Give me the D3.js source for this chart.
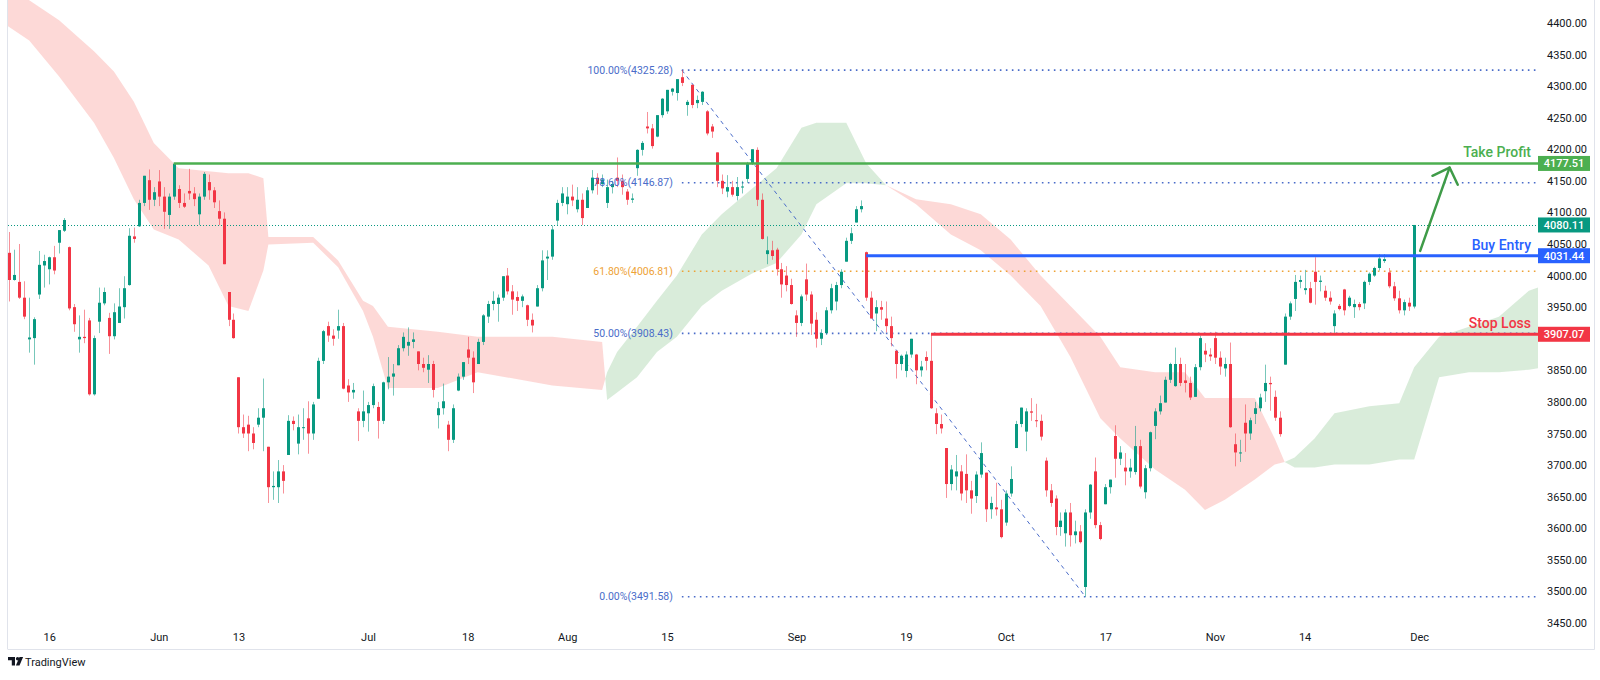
<!DOCTYPE html>
<html><head><meta charset="utf-8">
<script src="https://cdn.jsdelivr.net/npm/d3@7"></script>
<style>body{margin:0;background:#fff;}svg{display:block;font-family:Roboto,"Liberation Sans",sans-serif;}</style>
</head><body><svg id="c" width="1600" height="680"></svg>
<script>
// ---- candles, 4H bars (two per session), [open, high, low, close]
const mayBars = [
[4036,4069,3959,3993],[3993,4041,3992,4001],
[3990,4050,3963,3965],[3965,3991,3931,3935],
[3899,3965,3878,3902],[3901,3934,3859,3931],
[3970,4039,3963,4017],[4016,4033,3981,4023],
[4010,4030,3986,4029],[4029,4047,4002,4008],
[4052,4072,4035,4072],[4071,4091,4069,4088],
[4045,4046,3945,3948],[3950,3955,3911,3923],
[3899,3937,3878,3903],[3903,3946,3893,3901],
[3929,3933,3810,3812],[3812,3905,3810,3901],
[3927,3981,3909,3957],[3956,3981,3953,3974],
[3933,3941,3876,3904],[3904,3956,3899,3942],
[3925,3980,3925,3951],[3950,3999,3932,3980],
[3985,4075,3984,4063],[4062,4076,4052,4058],
[4078,4120,4077,4115],[4115,4158,4110,4158],
[4151,4168,4104,4120],[4120,4140,4110,4132]];
const junBars = [
[4149,4167,4110,4125],[4125,4140,4074,4101],
[4096,4130,4074,4125],[4125,4177,4120,4177],
[4137,4143,4107,4115],[4115,4130,4107,4109],
[4134,4169,4120,4130],[4130,4140,4110,4121],
[4097,4130,4080,4125],[4125,4164,4120,4161],
[4148,4160,4120,4135],[4135,4140,4107,4116],
[4102,4119,4080,4090],[4090,4100,4018,4018],
[3974,3974,3920,3930],[3930,3940,3900,3901],
[3839,3839,3750,3760],[3760,3780,3743,3750],
[3764,3778,3722,3750],[3750,3760,3725,3735],
[3764,3790,3760,3775],[3775,3837,3722,3790],
[3729,3729,3640,3665],[3665,3690,3645,3667],
[3665,3708,3640,3690],[3690,3700,3655,3675],
[3716,3779,3716,3770],[3770,3777,3755,3765],
[3734,3780,3717,3760],[3760,3790,3740,3760],
[3774,3801,3718,3750],[3750,3800,3740,3796],
[3805,3870,3805,3865],[3865,3914,3860,3912],
[3920,3927,3895,3905],[3905,3915,3889,3900],
[3913,3946,3900,3920],[3920,3925,3820,3821],
[3826,3836,3800,3815],[3815,3830,3805,3819],
[3785,3790,3738,3770],[3770,3818,3760,3785]];
const julBars = [
[3782,3800,3753,3795],[3795,3829,3790,3825],
[3792,3800,3742,3770],[3770,3832,3765,3831],
[3831,3871,3820,3840],[3840,3860,3810,3845],
[3858,3890,3858,3885],[3885,3910,3880,3903],
[3889,3918,3873,3895],[3895,3910,3885,3899],
[3880,3880,3850,3860],[3860,3870,3847,3854],
[3851,3874,3830,3860],[3860,3865,3807,3819],
[3779,3800,3758,3790],[3790,3829,3780,3801],
[3764,3770,3722,3740],[3740,3796,3735,3790],
[3818,3845,3817,3840],[3840,3863,3835,3863],
[3883,3903,3860,3870],[3870,3880,3814,3831],
[3860,3900,3860,3895],[3895,3939,3890,3937],
[3935,3960,3925,3955],[3955,3975,3945,3960],
[3955,3970,3927,3965],[3965,3999,3960,3999],
[4000,4012,3970,3975],[3975,3985,3938,3962],
[3966,3975,3944,3960],[3960,3970,3950,3967],
[3953,3954,3920,3930],[3930,3940,3910,3921],
[3951,3985,3951,3980],[3980,4040,3975,4024],
[4027,4040,3993,4030],[4030,4079,4025,4073],
[4087,4120,4079,4115],[4115,4140,4110,4130]];
const augBars = [
[4113,4140,4097,4125],[4125,4144,4110,4119],
[4105,4140,4100,4120],[4120,4130,4080,4091],
[4107,4140,4107,4135],[4135,4167,4130,4155],
[4155,4162,4128,4145],[4145,4160,4140,4152],
[4115,4152,4107,4140],[4140,4150,4130,4145],
[4155,4187,4140,4150],[4150,4160,4128,4140],
[4133,4137,4112,4120],[4120,4130,4115,4122],
[4170,4200,4158,4199],[4199,4213,4190,4210],
[4236,4259,4225,4233],[4233,4240,4201,4205],
[4220,4254,4219,4254],[4254,4281,4250,4280],
[4260,4294,4256,4294],[4291,4297,4285,4296],
[4289,4311,4277,4311],[4314,4325.28,4300,4305],
[4270,4278,4253,4275],[4302,4302,4265,4270],
[4273,4285,4265,4278],[4275,4292,4270,4291],
[4260,4262,4222,4225],[4236,4240,4218,4228],
[4195,4195,4140,4150],[4150,4160,4129,4138],
[4133,4159,4124,4140],[4140,4150,4125,4128],
[4126,4156,4119,4140],[4140,4150,4130,4141],
[4153,4180,4147,4178],[4178,4200,4175,4200],
[4199,4203,4110,4120],[4120,4130,4057,4058],
[4034,4062,4018,4040],[4040,4055,4025,4031],
[4041,4044,4000,4010],[4010,4020,3965,3986],
[4000,4015,3975,3985],[3985,3995,3954,3955]];
const sepBars = [
[3937,3945,3903,3925],[3925,3970,3920,3967],
[3994,4019,3960,3970],[3970,3975,3906,3924],
[3930,3942,3886,3900],[3900,3915,3890,3909],
[3909,3950,3906,3945],[3945,3987,3940,3980],
[3959,3990,3945,3985],[3985,4010,3980,4006],
[4022,4060,4022,4055],[4055,4076,4050,4067],
[4084,4110,4084,4105],[4105,4119,4100,4110],
[4037,4038,3960,3965],[3965,3975,3933,3932],
[3940,3961,3912,3950],[3950,3960,3930,3946],
[3932,3959,3910,3920],[3920,3935,3888,3901],
[3881,3881,3837,3860],[3860,3875,3850,3873],
[3849,3880,3839,3875],[3875,3900,3870,3900],
[3875,3876,3828,3850],[3850,3865,3840,3856],
[3871,3880,3850,3865],[3865,3907,3789,3790],
[3782,3790,3749,3765],[3765,3780,3750,3758],
[3727,3727,3648,3670],[3670,3700,3660,3693],
[3682,3716,3660,3690],[3690,3700,3644,3655],
[3686,3717,3640,3660],[3660,3675,3623,3647],
[3651,3690,3640,3685],[3685,3736,3680,3719],
[3688,3688,3610,3630],[3630,3650,3615,3640],
[3633,3672,3620,3630],[3630,3645,3584,3586]];
const octBars = [
[3609,3660,3604,3655],[3655,3698,3650,3678],
[3727,3770,3727,3765],[3765,3791,3760,3791],
[3753,3790,3722,3785],[3785,3806,3770,3783],
[3771,3797,3760,3770],[3770,3780,3739,3745],
[3707,3712,3650,3660],[3660,3670,3634,3640],
[3647,3652,3589,3602],[3602,3625,3588,3612],
[3592,3630,3571,3625],[3625,3640,3571,3589],
[3589,3612,3576,3595],[3595,3605,3576,3578],
[3507,3630,3491.58,3625],[3625,3670,3615,3669],
[3690,3712,3600,3605],[3605,3610,3581,3583],
[3638,3670,3638,3665],[3665,3677,3655,3677],
[3746,3763,3680,3710],[3710,3730,3700,3720],
[3696,3719,3668,3690],[3690,3710,3680,3696],
[3689,3762,3685,3730],[3730,3740,3663,3666],
[3657,3700,3647,3695],[3695,3753,3690,3752],
[3762,3790,3741,3785],[3785,3810,3780,3798],
[3799,3840,3799,3835],[3835,3862,3830,3860],
[3825,3886,3824,3860],[3860,3870,3825,3830],
[3834,3860,3815,3830],[3830,3840,3803,3807],
[3808,3860,3808,3855],[3855,3905,3850,3901],
[3881,3893,3863,3875],[3875,3885,3865,3872]];
const novBars = [
[3901,3911,3860,3870],[3870,3880,3843,3856],
[3853,3870,3840,3860],[3860,3894,3759,3760],
[3733,3750,3698,3720],[3720,3740,3705,3720],
[3767,3796,3721,3750],[3750,3775,3740,3771],
[3781,3800,3765,3790],[3790,3813,3785,3807],
[3817,3859,3800,3830],[3830,3840,3786,3828],
[3808,3818,3770,3775],[3775,3785,3745,3749],
[3859,3940,3859,3935],[3935,3959,3930,3956],
[3963,4001,3944,3990],[3990,4000,3980,3993],
[3977,4009,3970,3980],[3980,3990,3956,3957],
[4006,4029,3954,3990],[3990,4000,3975,3992],
[3976,3984,3960,3965],[3965,3975,3954,3959],
[3920,3945,3906,3940],[3952,3955,3945,3947],
[3978,3979,3937,3945],[3952,3968,3950,3965],
[3950,3962,3933,3955],[3955,3958,3945,3950],
[3956,3992,3947,3990],[3990,4005,3985,4003],
[4000,4014,3998,4012],[4012,4034,4008,4027],
[4023,4034,4020,4026],
[4005,4012,3980,3983],[3983,3990,3960,3964],
[3964,3976,3940,3945],[3945,3962,3937,3958],
[3957,3965,3944,3951],[3951,4080.11,3948,4080.11]];

// ---- Ichimoku cloud: bar index, leading span A, leading span B
const cloudBar = [-2,4,10,17,21,25,29,34,40,44,48,51,52,61,66,71,73,76,86,94,109,119,
  120,122,126,130,134,139,143,149,154,159,162,168,172,176,
  182,189,195,201,207,213,219,223,230,236,240,244,250,254,256,
  258,262,266,273,279,282,287,293,299,305,308];
const spanA = [4404,4372,4315,4242,4186,4121,4073,4057,4016,3952,3944,4008,4049,4052,4013,3944,3903,3822,3822,3847,3826,3819,
  3847,3879,3919,3960,4000,4065,4097,4137,4170,4234,4242,4242,4178,4143,
  4113,4065,4040,4000,3952,3871,3774,3742,3693,3661,3629,3645,3677,3701,3705,
  3712,3742,3782,3793,3798,3855,3903,3919,3935,3976,3984];
const spanB = [4452,4436,4404,4355,4323,4275,4210,4170,4165,4162,4162,4154,4061,4061,4024,3960,3952,3919,3911,3903,3903,3895,
  3803,3815,3839,3879,3903,3952,3976,4003,4020,4065,4113,4146,4146,4143,
  4121,4113,4097,4057,4000,3952,3903,3855,3847,3847,3806,3806,3806,3742,3705,
  3696,3696,3701,3701,3709,3709,3839,3847,3847,3851,3855];

// ---- axes
const priceTicks = [3450,3500,3550,3600,3650,3700,3750,3800,3850,3900,3950,4000,4050,4100,4150,4200,4250,4300,4350,4400];
const timeTickBars = [8,30,46,72,92,112,132,158,180,200,220,242,260,283];
const timeTickLabels = ["16","Jun","13","Jul","18","Aug","15","Sep","19","Oct","17","Nov","14","Dec"];

// ---- Fibonacci retracement
const fibPct = ["100.00%","78.60%","61.80%","50.00%","0.00%"];
const fibPrice = [4325.28,4146.87,4006.81,3908.43,3491.58];
const fibAnchorBars = [135,216];

// ---- trade levels
const levelNames = ["Take Profit","Buy Entry","Stop Loss"];
const levelPrices = [4177.51,4031.44,3907.07];
const levelStartBars = [33,172,185];
const lastPrice = 4080.11;
const arrowBars = [283.2,289.1];
const arrowPrices = [4039,4171];

// ================= drawing =================
const svg = d3.select("#c");
const P = {left:8, right:1538, top:0, bottom:628};
const bars = [].concat(mayBars,junBars,julBars,augBars,sepBars,octBars,novBars)
  .map((d,i)=>({i,o:d[0],h:d[1],l:d[2],c:d[3]}));
const x = d3.scaleLinear().domain([0,282]).range([9.3,1414.2]);
const y = d3.scaleLinear().domain([3450,4400]).range([623.0,22.9]);

svg.append("defs").append("clipPath").attr("id","clip").append("rect")
  .attr("x",P.left).attr("y",P.top).attr("width",P.right-P.left).attr("height",P.bottom-P.top);
const g = svg.append("g").attr("clip-path","url(#clip)");

// cloud
const pts = cloudBar.map((j,i)=>({j,a:spanA[i],b:spanB[i]}));
const segs=[]; let cur=null;
pts.forEach((p,i)=>{
  const bull = p.a>=p.b;
  if(!cur){cur={bull,pts:[p]};return;}
  if(bull===cur.bull){cur.pts.push(p);return;}
  const q=pts[i-1], d0=q.a-q.b, d1=p.a-p.b, t=d0/(d0-d1);
  const cx={j:q.j+t*(p.j-q.j),a:q.a+t*(p.a-q.a)}; cx.b=cx.a;
  cur.pts.push(cx); segs.push(cur); cur={bull,pts:[cx,p]};
});
segs.push(cur);
const area = d3.area().x(d=>x(d.j)).y0(d=>y(d.a)).y1(d=>y(d.b));
g.selectAll("path.cloud").data(segs).join("path").attr("class","cloud")
  .attr("d",d=>area(d.pts)).attr("fill",d=>d.bull?"rgba(67,160,71,0.2)":"rgba(244,67,54,0.2)");

// fib lines
const fibBlue="#4a6cc9", fibOrange="#eea236";
const fx0 = x(fibAnchorBars[0]);
g.append("line").attr("x1",x(fibAnchorBars[0])).attr("y1",y(fibPrice[0]))
  .attr("x2",x(fibAnchorBars[1])).attr("y2",y(fibPrice[4]))
  .attr("stroke",fibBlue).attr("stroke-width",1).attr("stroke-dasharray","4,4");
fibPct.forEach((p,i)=>{
  const col = p==="61.80%"?fibOrange:fibBlue;
  g.append("line").attr("x1",fx0).attr("x2",P.right).attr("y1",y(fibPrice[i])).attr("y2",y(fibPrice[i]))
    .attr("stroke",col).attr("stroke-width",1.6).attr("stroke-dasharray","1.6,4.4");
});

// last price dotted line
g.append("line").attr("x1",P.left).attr("x2",P.right).attr("y1",Math.round(y(lastPrice))+0.5).attr("y2",Math.round(y(lastPrice))+0.5)
  .attr("stroke","#089981").attr("stroke-width",1).attr("stroke-dasharray","1,2");

// candles
const up="#089981", dn="#f23645";
const cg = g.append("g");
cg.selectAll("rect.wick").data(bars).join("rect").attr("class","wick")
  .attr("x",d=>Math.round(x(d.i))).attr("width",1)
  .attr("y",d=>y(d.h)).attr("height",d=>Math.max(1,y(d.l)-y(d.h)))
  .attr("fill",d=>d.c>=d.o?up:dn).attr("opacity",0.55);
cg.selectAll("rect.body").data(bars).join("rect").attr("class","body")
  .attr("x",d=>Math.round(x(d.i))-1).attr("width",3)
  .attr("y",d=>y(Math.max(d.o,d.c))).attr("height",d=>Math.max(1,Math.abs(y(d.o)-y(d.c))))
  .attr("fill",d=>d.c>=d.o?up:dn);

// trade levels
const levelCols = ["#4caf50","#2962ff","#f23645"];
levelPrices.forEach((p,i)=>{
  g.append("line").attr("x1",x(levelStartBars[i])).attr("x2",P.right).attr("y1",y(p)).attr("y2",y(p))
    .attr("stroke",levelCols[i]).attr("stroke-width",i===0?2.5:3);
  svg.append("text").attr("x",1531).attr("y",y(p)-6).attr("text-anchor","end")
    .attr("font-size",14).attr("font-weight",500).attr("fill",levelCols[i]).text(levelNames[i]);
});

// arrow
const ax0=x(arrowBars[0]), ay0=y(arrowPrices[0]), ax1=x(arrowBars[1]), ay1=y(arrowPrices[1]);
const ang=Math.atan2(ay0-ay1,ax0-ax1), L=19, A=Math.PI/4;
const arrowCol="#3f9b48";
svg.append("line").attr("x1",ax0).attr("y1",ay0).attr("x2",ax1).attr("y2",ay1)
  .attr("stroke",arrowCol).attr("stroke-width",2.5).attr("stroke-linecap","round");
svg.append("path").attr("d",`M${ax1+L*Math.cos(ang+A)},${ay1+L*Math.sin(ang+A)}L${ax1},${ay1}L${ax1+L*Math.cos(ang-A)},${ay1+L*Math.sin(ang-A)}`)
  .attr("fill","none").attr("stroke",arrowCol).attr("stroke-width",2.5).attr("stroke-linecap","round").attr("stroke-linejoin","round");

// fib labels
fibPct.forEach((p,i)=>{
  svg.append("text").attr("x",fx0-9).attr("y",y(fibPrice[i])+3.5).attr("text-anchor","end")
    .attr("font-size",10.5).attr("fill",p==="61.80%"?fibOrange:fibBlue)
    .text(`${p}(${fibPrice[i].toFixed(2)})`);
});

// price tags
const tags = [[levelPrices[0],"#4caf50"],[lastPrice,"#089981"],[levelPrices[1],"#2962ff"],[levelPrices[2],"#f23645"]];

// price axis (labels hidden under a tag are left out, as on the original)
const shownTicks = priceTicks.filter(t=>tags.every(([p])=>Math.abs(y(t)-y(p))>=9));
const yAxis = svg.append("g").attr("transform","translate(1547,0)")
  .call(d3.axisRight(y).tickValues(shownTicks).tickFormat(d3.format(".2f")).tickSize(0).tickPadding(0));
yAxis.select(".domain").remove();
yAxis.selectAll("text").attr("font-size",11).attr("fill","#131722").attr("font-family","Roboto,sans-serif");

// time axis
const xAxis = svg.append("g").attr("transform","translate(0,633)")
  .call(d3.axisBottom(x).tickValues(timeTickBars).tickFormat((d,i)=>timeTickLabels[i]).tickSize(0).tickPadding(0));
xAxis.select(".domain").remove();
xAxis.selectAll("text").attr("font-size",11).attr("fill","#131722").attr("font-family","Roboto,sans-serif");

tags.forEach(([p,col])=>{
  const yy=y(p);
  svg.append("rect").attr("x",1538).attr("y",yy-7.5).attr("width",52).attr("height",15).attr("fill",col);
  svg.append("text").attr("x",1564).attr("y",yy+4).attr("text-anchor","middle").attr("font-size",11)
    .attr("font-weight",500).attr("fill","#fff").text(p.toFixed(2));
});

// frame
svg.append("line").attr("x1",7.5).attr("x2",7.5).attr("y1",0).attr("y2",649).attr("stroke","#e0e3eb");
svg.append("line").attr("x1",1594.5).attr("x2",1594.5).attr("y1",0).attr("y2",649.5).attr("stroke","#e0e3eb");
svg.append("line").attr("x1",7.5).attr("x2",1594.5).attr("y1",649.5).attr("y2",649.5).attr("stroke","#e0e3eb");

// TradingView mark
const lg = svg.append("g").attr("fill","#131722");
lg.append("path").attr("d","M8,657h7v8.5h-3.2v-5.3h-3.8z");
lg.append("circle").attr("cx",17.6).attr("cy",658.7).attr("r",1.7);
lg.append("path").attr("d","M19.5,657h3.6l-3.6,8.5h-3.6z");
svg.append("text").attr("x",25).attr("y",665.5).attr("font-size",11).attr("fill","#131722").text("TradingView");
</script></body></html>
